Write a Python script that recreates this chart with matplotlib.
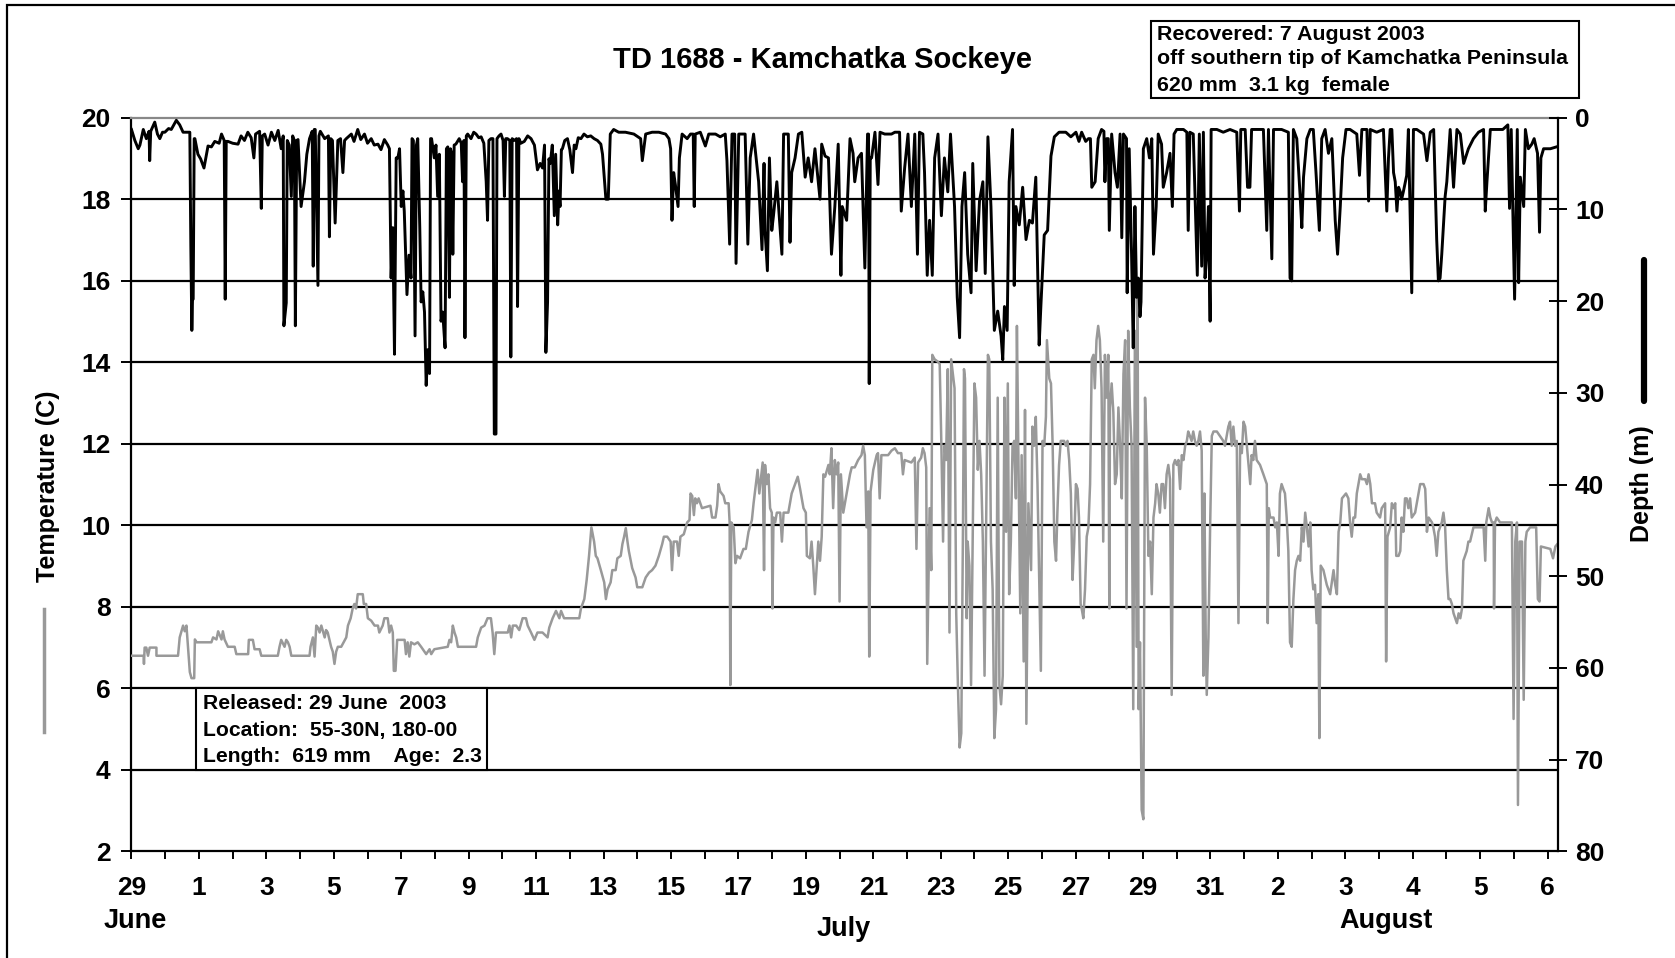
import matplotlib.pyplot as plt
from matplotlib.lines import Line2D
from matplotlib.patches import Rectangle

plt.rcParams["font.family"] = ["Liberation Sans", "DejaVu Sans"]
plt.rcParams["font.weight"] = "bold"

# time axis: days after 29 June 2003 (0 = 29 June)
# depth record (m)
depth_early = [
    (0.00, 1.3), (0.10, 2.5), (0.20, 3.4), (0.25, 3.0), (0.35, 1.3), (0.44, 2.3), (0.52, 1.5),
    (0.54, 4.7), (0.57, 1.5), (0.69, 0.5), (0.77, 1.8), (0.84, 2.3), (0.92, 1.6), (0.99, 1.6),
    (1.10, 1.2), (1.18, 1.3), (1.33, 0.3), (1.43, 0.8), (1.53, 1.6), (1.73, 1.6), (1.76, 14.0),
    (1.79, 23.2), (1.81, 19.8), (1.83, 19.8), (1.86, 2.3), (1.88, 2.3), (1.97, 4.0), (2.05, 4.5),
    (2.15, 5.5), (2.20, 4.5), (2.27, 3.1), (2.37, 3.2), (2.47, 2.6), (2.60, 2.8), (2.67, 1.8),
    (2.75, 2.5), (2.78, 19.8), (2.81, 2.6), (2.86, 2.6), (3.00, 2.8), (3.16, 2.9), (3.25, 2.0),
    (3.35, 2.5), (3.45, 1.6), (3.55, 2.2), (3.63, 4.4), (3.68, 1.8), (3.80, 1.5), (3.85, 9.9),
    (3.88, 2.0), (3.95, 1.8), (4.05, 3.0), (4.15, 1.6), (4.25, 2.5), (4.35, 1.4), (4.44, 3.4),
    (4.50, 2.0), (4.52, 22.7), (4.59, 20.2), (4.62, 2.5), (4.68, 3.0), (4.74, 8.6), (4.78, 2.0),
    (4.83, 2.5), (4.86, 22.7), (4.90, 2.5), (4.94, 2.4), (5.03, 9.7), (5.13, 7.0), (5.20, 4.0),
    (5.28, 2.3), (5.36, 1.5), (5.39, 16.2), (5.42, 1.3), (5.45, 1.3), (5.53, 18.3), (5.56, 2.0),
    (5.60, 1.5), (5.73, 2.3), (5.84, 2.0), (5.87, 13.0), (5.91, 2.3), (5.96, 2.5), (6.04, 11.5),
    (6.08, 7.0), (6.12, 2.5), (6.20, 2.3), (6.27, 6.0), (6.32, 2.5), (6.37, 2.3), (6.52, 1.8),
    (6.60, 2.6), (6.71, 1.3), (6.80, 2.4), (6.91, 1.8), (7.00, 2.8), (7.11, 2.3), (7.20, 3.0),
    (7.31, 2.9), (7.40, 3.5), (7.50, 2.4), (7.60, 3.0), (7.65, 3.4), (7.70, 17.5), (7.75, 12.0),
    (7.80, 25.8), (7.85, 4.4), (7.90, 4.4), (7.95, 3.4), (8.00, 9.7), (8.05, 8.0), (8.09, 10.2),
    (8.17, 19.3), (8.23, 15.0), (8.29, 17.5), (8.32, 2.3), (8.36, 2.5), (8.41, 23.8), (8.45, 3.0),
    (8.49, 2.3), (8.55, 12.0), (8.59, 20.1), (8.64, 19.0), (8.69, 21.2), (8.74, 29.2), (8.79, 25.3),
    (8.84, 27.9), (8.87, 2.3), (8.90, 2.3), (8.98, 4.4), (9.03, 3.0), (9.08, 8.6), (9.13, 4.0),
    (9.18, 22.2), (9.23, 21.2), (9.30, 25.1), (9.34, 3.4), (9.38, 3.2), (9.43, 19.6), (9.46, 3.4),
    (9.50, 4.0), (9.53, 14.9), (9.57, 3.0), (9.62, 2.9), (9.72, 2.3), (9.78, 2.8), (9.82, 7.0),
    (9.86, 2.5), (9.89, 24.0), (9.93, 2.0), (9.97, 1.8), (10.07, 2.3), (10.15, 1.6), (10.22, 1.8),
    (10.30, 2.2), (10.37, 2.1), (10.45, 2.8), (10.52, 7.0), (10.56, 11.2), (10.60, 2.5),
    (10.66, 2.3), (10.72, 2.3), (10.76, 34.5), (10.81, 34.5), (10.84, 2.3), (10.90, 2.0),
    (10.96, 1.8), (11.02, 2.5), (11.06, 8.6), (11.10, 2.3), (11.15, 2.3), (11.22, 2.5),
    (11.25, 26.1), (11.29, 2.3), (11.35, 2.5), (11.42, 2.3), (11.45, 20.6), (11.49, 2.3),
    (11.55, 2.8), (11.65, 2.6), (11.75, 2.0), (11.85, 2.3), (11.95, 3.0), (12.04, 5.7),
    (12.12, 5.0), (12.19, 5.5), (12.25, 3.0), (12.29, 25.6), (12.34, 20.1), (12.38, 4.5),
    (12.42, 5.0), (12.48, 3.0), (12.54, 10.7), (12.58, 4.0), (12.64, 11.7), (12.68, 8.0),
    (12.71, 9.7), (12.75, 3.5), (12.78, 3.4), (12.85, 2.5), (12.93, 2.3), (13.00, 3.5),
    (13.08, 6.0), (13.13, 3.0), (13.18, 3.4), (13.25, 2.2), (13.33, 2.3), (13.42, 1.8),
    (13.52, 2.1), (13.62, 2.0), (13.72, 2.3), (13.82, 2.5), (13.92, 2.9), (13.97, 4.0),
]
depth_mid = [
    (14.07, 8.9), (14.14, 8.9), (14.20, 1.8), (14.30, 1.3), (14.45, 1.6), (14.65, 1.6),
    (14.90, 1.8), (15.10, 2.3), (15.15, 4.7), (15.25, 1.8), (15.44, 1.6), (15.64, 1.6),
    (15.84, 1.8), (15.94, 2.3), (15.99, 3.4), (16.03, 11.2), (16.08, 6.0), (16.13, 7.3),
    (16.21, 9.7), (16.25, 4.4), (16.33, 1.8), (16.48, 2.3), (16.58, 1.8), (16.66, 1.8),
    (16.69, 9.7), (16.72, 1.8), (16.87, 1.6), (17.02, 3.1), (17.12, 1.8), (17.32, 1.8),
    (17.46, 2.1), (17.61, 1.8), (17.66, 4.7), (17.74, 13.8), (17.81, 1.8), (17.89, 1.8),
    (17.93, 15.9), (18.01, 1.8), (18.10, 1.8), (18.20, 1.8), (18.28, 13.8), (18.35, 4.4),
    (18.45, 1.8), (18.60, 7.0), (18.70, 14.4), (18.76, 5.0), (18.79, 12.3), (18.86, 16.7),
    (18.92, 4.4), (18.99, 12.3), (19.04, 10.7), (19.14, 7.0), (19.29, 14.9), (19.34, 1.8),
    (19.48, 1.8), (19.53, 13.6), (19.58, 6.0), (19.68, 4.4), (19.78, 1.8), (19.88, 1.6),
    (19.98, 6.5), (20.07, 4.4), (20.17, 7.0), (20.27, 3.4), (20.42, 8.9), (20.47, 2.9),
    (20.57, 4.2), (20.67, 4.4), (20.76, 14.9), (20.86, 9.7), (20.96, 2.9), (21.04, 17.2),
    (21.08, 9.7), (21.21, 11.2), (21.31, 2.3), (21.40, 3.9), (21.45, 7.0), (21.55, 4.4),
    (21.65, 3.9), (21.75, 16.4), (21.83, 1.8), (21.86, 1.8), (21.88, 29.0), (21.91, 4.4),
    (21.95, 4.4), (22.05, 1.6), (22.14, 7.3), (22.20, 1.6), (22.34, 1.8), (22.54, 1.8),
    (22.64, 1.6), (22.78, 1.6), (22.83, 10.2), (22.93, 5.5), (23.03, 1.8), (23.13, 9.7),
    (23.23, 1.8), (23.31, 14.9), (23.37, 1.6), (23.47, 1.8), (23.52, 6.0), (23.60, 17.2),
    (23.67, 11.2), (23.75, 17.2), (23.82, 4.4), (23.92, 1.8), (24.02, 10.7), (24.11, 4.4),
    (24.21, 8.1), (24.29, 1.8), (24.41, 9.7), (24.49, 19.6), (24.56, 24.0), (24.63, 9.7),
    (24.71, 6.0), (24.80, 14.9), (24.90, 19.1), (24.95, 5.0), (25.05, 16.7), (25.15, 9.1),
    (25.25, 7.0), (25.32, 17.0), (25.40, 2.1), (25.49, 9.7), (25.59, 23.2), (25.69, 21.1),
    (25.79, 23.8), (25.84, 26.4), (25.89, 20.6), (25.97, 23.2), (26.03, 7.0), (26.13, 1.3),
    (26.18, 18.3), (26.23, 9.7), (26.33, 11.7), (26.43, 7.6), (26.53, 13.3), (26.63, 11.2),
    (26.72, 11.5), (26.82, 6.5), (26.92, 24.8), (26.97, 20.6), (27.07, 12.8), (27.17, 12.3),
    (27.27, 4.2), (27.37, 2.1), (27.51, 1.6), (27.71, 1.6), (27.86, 2.1), (28.01, 1.6),
    (28.10, 2.6),
]
depth_late = [
    (28.18, 1.6), (28.30, 2.6), (28.38, 2.3), (28.44, 2.3), (28.48, 7.6), (28.58, 7.0),
    (28.67, 2.3), (28.77, 1.3), (28.84, 1.5), (28.87, 7.0), (28.92, 2.3), (28.97, 2.3),
    (29.00, 12.3), (29.07, 1.8), (29.17, 6.0), (29.24, 7.6), (29.32, 1.8), (29.37, 13.1),
    (29.42, 1.8), (29.51, 2.3), (29.53, 19.1), (29.59, 3.4), (29.66, 14.9), (29.71, 25.1),
    (29.76, 9.7), (29.81, 19.6), (29.86, 17.5), (29.91, 21.7), (29.94, 20.1), (30.01, 3.4),
    (30.11, 2.3), (30.19, 4.4), (30.26, 2.3), (30.31, 14.9), (30.39, 9.7), (30.45, 1.8),
    (30.55, 2.9), (30.60, 7.6), (30.70, 6.0), (30.80, 3.9), (30.87, 9.7), (30.92, 1.8),
    (31.00, 1.3), (31.20, 1.3), (31.30, 1.6), (31.34, 12.3), (31.39, 1.6), (31.49, 1.8),
    (31.61, 17.2), (31.67, 1.8), (31.74, 16.2), (31.79, 1.6), (31.84, 17.5), (31.89, 14.9),
    (31.94, 9.7), (31.99, 22.2), (32.02, 1.3), (32.19, 1.3), (32.38, 1.6), (32.58, 1.3),
    (32.78, 1.6), (32.86, 10.2), (32.90, 1.3), (33.03, 1.3), (33.10, 7.6), (33.17, 7.6),
    (33.22, 1.3), (33.37, 1.3), (33.57, 1.3), (33.67, 12.3), (33.72, 1.3), (33.82, 15.4),
    (33.87, 1.3), (33.97, 1.3), (34.11, 1.3), (34.31, 1.6), (34.36, 17.5), (34.41, 17.8),
    (34.46, 1.3), (34.56, 2.3), (34.66, 8.6), (34.71, 12.0), (34.76, 6.5), (34.86, 2.3),
    (34.96, 1.3), (35.05, 1.3), (35.13, 6.0), (35.23, 12.3), (35.30, 2.3), (35.40, 1.3),
    (35.50, 3.9), (35.60, 2.3), (35.70, 11.2), (35.77, 14.9), (35.85, 9.7), (35.92, 4.4),
    (36.02, 1.3), (36.14, 1.3), (36.34, 1.8), (36.42, 6.3), (36.49, 1.3), (36.64, 1.3),
    (36.69, 9.1), (36.74, 1.3), (36.93, 1.6), (37.13, 1.3), (37.23, 10.2), (37.28, 4.4),
    (37.33, 1.3), (37.38, 1.3), (37.43, 6.0), (37.48, 7.0), (37.53, 10.2), (37.58, 7.6),
    (37.63, 8.1), (37.67, 8.9), (37.72, 8.1), (37.82, 6.3), (37.87, 1.3), (37.97, 19.1),
    (38.02, 1.3), (38.12, 1.3), (38.32, 1.8), (38.42, 4.7), (38.52, 1.6), (38.62, 1.3),
    (38.71, 13.3), (38.76, 17.8), (38.81, 17.5), (38.86, 14.9), (38.91, 11.7), (38.96, 8.6),
    (39.01, 7.0), (39.11, 1.3), (39.21, 7.6), (39.31, 1.3), (39.41, 1.8), (39.51, 5.0),
    (39.65, 3.4), (39.80, 2.3), (39.95, 1.6), (40.10, 1.3), (40.15, 10.2), (40.20, 7.0),
    (40.30, 1.3), (40.49, 1.3), (40.67, 1.3), (40.82, 0.8), (40.87, 9.9), (40.92, 1.3),
    (41.02, 19.8), (41.10, 1.3), (41.14, 18.0), (41.19, 6.5), (41.29, 9.7), (41.34, 1.3),
    (41.43, 3.4), (41.53, 2.9), (41.60, 2.3), (41.70, 3.9), (41.76, 12.5), (41.80, 4.4),
    (41.88, 3.4), (41.98, 3.4), (42.08, 3.4), (42.35, 3.1),
]

# temperature record (deg C)
temp_early = [
    (0.00, 6.8), (0.36, 6.8), (0.37, 6.6), (0.39, 7.0), (0.44, 7.0), (0.49, 6.8), (0.54, 7.0),
    (0.74, 7.0), (0.74, 6.8), (1.38, 6.8), (1.43, 7.25), (1.53, 7.54), (1.58, 7.4), (1.63, 7.54),
    (1.73, 6.4), (1.78, 6.25), (1.86, 6.25), (1.88, 7.2), (1.93, 7.13), (2.37, 7.13), (2.42, 7.25),
    (2.52, 7.2), (2.57, 7.4), (2.67, 7.2), (2.71, 7.4), (2.76, 7.2), (2.86, 7.02), (3.06, 7.02),
    (3.11, 6.84), (3.46, 6.84), (3.48, 7.19), (3.60, 7.19), (3.65, 6.96), (3.80, 6.96),
    (3.85, 6.8), (4.34, 6.8), (4.39, 7.02), (4.44, 7.19), (4.54, 7.02), (4.59, 7.19),
    (4.64, 7.13), (4.69, 7.02), (4.74, 6.8), (5.28, 6.8), (5.31, 7.02), (5.38, 7.25),
    (5.43, 6.78), (5.48, 7.54), (5.53, 7.49), (5.58, 7.37), (5.63, 7.54), (5.73, 7.25),
    (5.77, 7.43), (5.82, 7.37), (5.92, 7.02), (5.97, 6.9), (6.02, 6.6), (6.07, 6.9),
    (6.12, 7.02), (6.22, 7.02), (6.37, 7.25), (6.42, 7.54), (6.50, 7.72), (6.56, 7.96),
    (6.61, 8.07), (6.66, 7.96), (6.71, 8.31), (6.86, 8.31), (6.89, 8.07), (6.96, 8.07),
    (7.01, 7.72), (7.11, 7.66), (7.21, 7.54), (7.31, 7.54), (7.35, 7.37), (7.45, 7.54),
    (7.50, 7.72), (7.60, 7.72), (7.65, 7.37), (7.70, 7.54), (7.75, 7.37), (7.78, 6.43),
    (7.83, 6.43), (7.88, 7.19), (8.10, 7.19), (8.14, 6.84), (8.19, 7.13), (8.24, 6.78),
    (8.29, 7.13), (8.39, 7.08), (8.49, 7.13), (8.59, 7.02), (8.64, 6.96), (8.74, 6.84),
    (8.84, 6.96), (8.89, 6.84), (8.98, 6.96), (9.38, 7.02), (9.43, 7.19), (9.48, 7.13),
    (9.53, 7.54), (9.58, 7.37), (9.63, 7.25), (9.68, 7.02), (10.22, 7.02), (10.27, 7.25),
    (10.37, 7.49), (10.47, 7.54), (10.56, 7.72), (10.66, 7.72), (10.71, 7.37), (10.76, 6.84),
    (10.81, 7.37), (11.16, 7.37), (11.21, 7.54), (11.26, 7.25), (11.31, 7.54), (11.41, 7.54),
    (11.50, 7.43), (11.60, 7.72), (11.70, 7.72), (11.75, 7.54), (11.85, 7.37), (11.95, 7.19),
    (12.04, 7.37), (12.19, 7.37), (12.34, 7.25), (12.39, 7.49), (12.49, 7.72), (12.59, 7.9),
    (12.69, 7.72), (12.74, 7.9), (12.83, 7.72), (13.28, 7.72), (13.33, 7.96), (13.43, 8.19),
    (13.50, 8.66), (13.57, 9.25), (13.64, 9.95), (13.72, 9.6), (13.77, 9.25), (13.82, 9.19),
    (13.92, 8.9), (14.02, 8.6), (14.07, 8.19), (14.12, 8.43),
]
temp_mid = [
    (14.21, 8.60), (14.26, 8.90), (14.36, 8.90), (14.41, 9.19), (14.51, 9.25), (14.56, 9.54),
    (14.61, 9.72), (14.66, 9.93), (14.71, 9.60), (14.75, 9.37), (14.85, 8.95), (14.95, 8.72),
    (15.00, 8.48), (15.15, 8.48), (15.25, 8.72), (15.35, 8.84), (15.44, 8.90), (15.54, 9.01),
    (15.64, 9.25), (15.74, 9.54), (15.79, 9.72), (15.89, 9.72), (15.99, 9.60), (16.03, 8.90),
    (16.08, 9.60), (16.18, 9.60), (16.23, 9.25), (16.28, 9.72), (16.38, 9.78), (16.48, 10.07),
    (16.55, 10.13), (16.58, 10.78), (16.63, 10.72), (16.68, 10.25), (16.72, 10.66),
    (16.77, 10.54), (16.82, 10.66), (16.92, 10.42), (17.17, 10.48), (17.22, 10.19),
    (17.32, 10.19), (17.37, 10.48), (17.41, 11.01), (17.46, 10.83), (17.56, 10.72),
    (17.61, 10.54), (17.71, 10.54), (17.74, 10.07), (17.76, 6.08), (17.79, 10.07),
    (17.86, 9.95), (17.91, 9.07), (17.96, 9.25), (18.05, 9.19), (18.15, 9.42), (18.22, 9.42),
    (18.30, 9.84), (18.40, 10.13), (18.45, 10.54), (18.50, 10.89), (18.57, 11.36),
    (18.62, 10.78), (18.68, 11.25), (18.72, 11.54), (18.76, 8.90), (18.79, 11.48),
    (18.84, 11.01), (18.89, 11.25), (18.94, 10.42), (18.99, 10.31), (19.01, 7.96),
    (19.04, 10.19), (19.09, 10.07), (19.14, 10.31), (19.24, 10.31), (19.29, 9.60),
    (19.34, 10.31), (19.48, 10.31), (19.58, 10.78), (19.68, 11.01), (19.76, 11.19),
    (19.83, 10.89), (19.88, 10.66), (19.93, 10.42), (20.00, 10.31), (20.03, 9.25),
    (20.12, 9.19), (20.17, 9.60), (20.22, 9.01), (20.27, 8.31), (20.32, 8.95), (20.37, 9.60),
    (20.42, 9.13), (20.47, 9.72), (20.52, 11.25), (20.57, 11.19), (20.67, 11.48),
    (20.71, 11.25), (20.76, 11.89), (20.81, 10.42), (20.86, 11.60), (20.91, 11.25),
    (20.96, 11.54), (21.00, 8.13), (21.04, 11.25), (21.11, 10.31), (21.21, 10.78),
    (21.31, 11.25), (21.36, 11.42), (21.45, 11.42), (21.55, 11.60), (21.65, 11.72),
    (21.70, 11.95), (21.75, 11.72), (21.80, 9.95), (21.85, 10.83), (21.88, 6.78),
    (21.92, 10.83), (22.00, 11.36), (22.10, 11.72), (22.14, 11.77), (22.19, 10.66),
    (22.24, 11.72), (22.44, 11.72), (22.54, 11.83), (22.64, 11.89), (22.73, 11.77),
    (22.83, 11.77), (22.88, 11.25), (22.93, 11.60), (23.13, 11.54), (23.23, 11.66),
    (23.28, 9.42), (23.33, 11.54), (23.42, 11.66), (23.47, 11.89), (23.52, 11.77),
    (23.57, 11.42), (23.60, 6.60), (23.67, 10.42), (23.72, 8.90), (23.75, 14.18),
    (23.82, 14.07), (23.92, 14.01), (23.97, 13.95), (24.02, 11.95), (24.07, 9.60),
    (24.11, 11.95), (24.16, 11.60), (24.21, 13.83), (24.26, 7.37), (24.31, 14.07),
    (24.36, 13.71), (24.41, 13.36), (24.46, 7.84), (24.51, 6.08), (24.56, 4.55),
    (24.61, 4.90), (24.66, 9.95), (24.69, 13.83), (24.72, 13.60), (24.77, 7.72),
    (24.80, 9.60), (24.85, 9.01), (24.90, 6.08), (24.95, 9.84), (25.00, 13.48),
    (25.05, 13.13), (25.10, 11.36), (25.15, 12.07), (25.20, 11.25), (25.25, 9.60),
    (25.30, 6.31), (25.35, 10.19), (25.40, 14.18), (25.44, 14.07), (25.49, 9.60),
    (25.54, 8.43), (25.59, 4.78), (25.64, 5.49), (25.69, 13.13), (25.74, 6.08),
    (25.79, 5.61), (25.84, 6.31), (25.89, 13.13), (25.94, 9.84), (25.99, 13.48),
    (26.03, 8.31), (26.08, 9.60), (26.13, 11.95), (26.18, 12.07), (26.23, 10.66),
    (26.26, 14.89), (26.30, 11.95), (26.36, 7.84), (26.40, 11.72), (26.46, 6.66),
    (26.50, 12.83), (26.54, 5.13), (26.60, 10.54), (26.68, 8.90), (26.72, 12.42),
    (26.77, 11.95), (26.82, 12.66), (26.87, 11.01), (26.92, 8.66), (26.97, 6.43),
    (27.02, 12.07), (27.07, 11.95), (27.12, 12.66), (27.15, 14.54), (27.22, 13.60),
    (27.27, 13.48), (27.32, 11.95), (27.37, 9.60), (27.42, 9.13), (27.46, 10.31),
    (27.51, 11.48), (27.56, 12.07), (27.66, 12.07), (27.71, 11.95), (27.76, 12.07),
    (27.81, 11.60), (27.86, 10.78), (27.91, 8.66), (27.96, 9.60), (28.01, 11.01),
    (28.06, 10.89), (28.10, 10.19), (28.15, 8.07),
]
temp_late = [
    (28.18, 7.96), (28.23, 7.72), (28.28, 8.43), (28.33, 9.72), (28.38, 9.95), (28.43, 11.01),
    (28.48, 14.07), (28.53, 14.18), (28.57, 13.36), (28.62, 14.54), (28.67, 14.89),
    (28.72, 14.54), (28.77, 13.36), (28.82, 9.60), (28.87, 14.18), (28.92, 13.13),
    (28.97, 14.18), (29.00, 7.96), (29.02, 12.89), (29.07, 13.48), (29.12, 12.77),
    (29.17, 11.01), (29.22, 11.25), (29.27, 12.89), (29.32, 11.95), (29.37, 10.66),
    (29.42, 13.71), (29.47, 14.54), (29.51, 7.96), (29.56, 14.77), (29.61, 12.89),
    (29.66, 11.95), (29.71, 5.49), (29.76, 14.77), (29.81, 7.02), (29.84, 15.59),
    (29.87, 5.49), (29.91, 7.13), (29.96, 3.02), (30.01, 2.79), (30.06, 13.13), (30.11, 11.95),
    (30.16, 9.25), (30.21, 9.60), (30.26, 8.31), (30.31, 10.19), (30.36, 10.54), (30.40, 11.01),
    (30.45, 10.78), (30.50, 10.31), (30.55, 11.01), (30.60, 11.01), (30.65, 10.42),
    (30.70, 11.25), (30.75, 11.48), (30.80, 11.13), (30.85, 5.84), (30.90, 11.48),
    (30.95, 11.60), (31.00, 11.48), (31.05, 11.60), (31.10, 10.89), (31.15, 11.72),
    (31.20, 11.60), (31.25, 11.95), (31.30, 12.07), (31.34, 12.30), (31.39, 12.19),
    (31.44, 12.07), (31.49, 12.30), (31.54, 12.07), (31.59, 11.95), (31.64, 12.07),
    (31.69, 12.30), (31.74, 11.83), (31.77, 8.31), (31.79, 6.31), (31.82, 10.78), (31.86, 7.25),
    (31.89, 5.84), (31.94, 7.25), (31.99, 9.95), (32.04, 12.19), (32.09, 12.30), (32.19, 12.30),
    (32.28, 12.19), (32.38, 12.07), (32.43, 11.95), (32.53, 12.42), (32.58, 12.54),
    (32.63, 11.95), (32.68, 12.42), (32.73, 11.95), (32.78, 12.07), (32.83, 7.60),
    (32.88, 11.95), (32.93, 11.77), (32.98, 12.54), (33.03, 12.42), (33.08, 11.95),
    (33.18, 11.01), (33.22, 11.72), (33.27, 11.60), (33.32, 12.07), (33.37, 11.60),
    (33.47, 11.48), (33.57, 11.25), (33.67, 11.01), (33.70, 7.60), (33.73, 10.42),
    (33.77, 10.19), (33.87, 10.19), (33.92, 9.95), (33.97, 10.07), (34.02, 9.25),
    (34.06, 10.78), (34.11, 11.01), (34.16, 10.89), (34.21, 10.78), (34.26, 10.19),
    (34.31, 9.37), (34.36, 7.13), (34.41, 7.02), (34.46, 8.19), (34.51, 8.90), (34.56, 9.13),
    (34.61, 9.25), (34.66, 9.13), (34.71, 9.95), (34.76, 9.60), (34.81, 10.31), (34.86, 9.95),
    (34.91, 9.48), (34.96, 10.07), (35.00, 8.90), (35.05, 8.43), (35.10, 8.54), (35.15, 7.60),
    (35.20, 8.31), (35.23, 4.78), (35.27, 9.01), (35.35, 8.90), (35.45, 8.54), (35.55, 8.31),
    (35.65, 8.90), (35.70, 8.54), (35.75, 8.31), (35.80, 9.84), (35.85, 10.07), (35.90, 10.66),
    (36.02, 10.78), (36.09, 10.66), (36.14, 10.07), (36.19, 9.72), (36.24, 10.19),
    (36.29, 10.19), (36.34, 10.78), (36.39, 11.01), (36.44, 11.25), (36.49, 11.13),
    (36.59, 11.13), (36.64, 11.01), (36.69, 11.25), (36.74, 11.01), (36.79, 10.54),
    (36.88, 10.54), (36.93, 10.31), (37.03, 10.19), (37.08, 10.42), (37.18, 10.54),
    (37.21, 6.66), (37.25, 9.72), (37.33, 9.95), (37.38, 10.54), (37.43, 10.42),
    (37.48, 10.54), (37.51, 9.25), (37.58, 9.25), (37.63, 9.37), (37.67, 10.19), (37.72, 9.84),
    (37.77, 10.66), (37.82, 10.66), (37.87, 10.42), (37.92, 10.66), (37.97, 10.19),
    (38.07, 10.31), (38.12, 10.54), (38.17, 10.78), (38.22, 11.01), (38.32, 11.01),
    (38.37, 10.89), (38.42, 9.84), (38.47, 10.19), (38.57, 10.07), (38.61, 9.95), (38.66, 9.72),
    (38.71, 9.25), (38.76, 9.84), (38.86, 10.07), (38.91, 10.31), (38.96, 9.95), (39.01, 8.90),
    (39.06, 8.19), (39.11, 8.19), (39.16, 8.07), (39.21, 7.84), (39.26, 7.72), (39.31, 7.60),
    (39.36, 7.84), (39.41, 7.72), (39.46, 7.96), (39.50, 9.13), (39.55, 9.25), (39.60, 9.37),
    (39.65, 9.60), (39.70, 9.60), (39.80, 9.95), (40.10, 9.95), (40.15, 9.13), (40.18, 10.07),
    (40.25, 10.42), (40.30, 10.19), (40.35, 10.07), (40.40, 10.07), (40.41, 7.96),
    (40.44, 10.07), (40.49, 10.19), (40.59, 10.07), (40.94, 10.07), (40.99, 5.25),
    (41.04, 9.60), (41.09, 10.07), (41.12, 3.14), (41.17, 9.60), (41.24, 9.60), (41.29, 5.72),
    (41.34, 9.60), (41.38, 9.84), (41.48, 9.95), (41.66, 9.95), (41.71, 8.19), (41.76, 8.13),
    (41.80, 9.48), (42.08, 9.42), (42.16, 9.19), (42.23, 9.48), (42.35, 9.60),
]

day_ticks = list(range(0, 43, 2))
day_labels = ["29", "1", "3", "5", "7", "9", "11", "13", "15", "17", "19", "21",
              "23", "25", "27", "29", "31", "2", "3", "4", "5", "6"]
temp_ticks = list(range(2, 21, 2))
depth_ticks = list(range(0, 81, 10))

depth = depth_early + depth_mid + depth_late
temp = temp_early + temp_mid + temp_late
depth_x = [p[0] for p in depth]
depth_y = [p[1] for p in depth]
temp_x = [p[0] for p in temp]
temp_y = [p[1] for p in temp]

fig = plt.figure(figsize=(16.75, 9.58), dpi=100)
ax = fig.add_axes([0.0785, 0.1112, 0.8515, 0.7661])
ax2 = ax.twinx()

for v in range(4, 20, 2):
    ax.axhline(v, color="black", lw=1.6, zorder=1)

ax.plot(temp_x, temp_y, color="#999999", lw=1.8, zorder=3)
ax2.plot(depth_x, depth_y, color="black", lw=2.1)

ax.set_xlim(0, 42.3)
ax.set_ylim(2, 20)
ax2.set_ylim(80, 0)

ax.set_yticks(temp_ticks)
ax.set_xticks(day_ticks)
ax.set_xticklabels(day_labels)
ax.set_xticks(range(1, 43, 2), minor=True)
ax2.set_yticks(depth_ticks)

ax.tick_params(axis="y", direction="out", length=7, width=1.4, labelsize=19, pad=8)
ax.tick_params(axis="x", which="both", direction="out", length=6, width=1.4,
               labelsize=19, pad=12)
ax2.tick_params(axis="y", direction="inout", length=13, width=1.4, labelsize=19, pad=6)

for s in ["left", "bottom"]:
    ax.spines[s].set_linewidth(1.6)
ax.spines["top"].set_color("#888888")
ax.spines["top"].set_linewidth(1.6)
ax.spines["right"].set_visible(False)
for s in ["left", "top", "bottom"]:
    ax2.spines[s].set_visible(False)
ax2.spines["right"].set_linewidth(1.6)

# release box sits between the 4 and 6 degree lines
ax.add_patch(Rectangle((1.9, 4), 8.64, 2, facecolor="white", edgecolor="black",
                       lw=1.5, zorder=5))
ax.text(2.12, 5.62, "Released: 29 June  2003", fontsize=15.2, va="center", zorder=6)
ax.text(2.12, 4.96, "Location:  55-30N, 180-00", fontsize=15.2, va="center", zorder=6)
ax.text(2.12, 4.33, "Length:  619 mm    Age:  2.3", fontsize=15.2, va="center", zorder=6)

fig.text(0.491, 0.937, "TD 1688 - Kamchatka Sockeye", fontsize=21, ha="center", va="center")

fig.add_artist(Rectangle((0.687, 0.8974), 0.2557, 0.0803, transform=fig.transFigure,
                         fill=False, edgecolor="black", lw=1.5))
fig.text(0.6908, 0.9643, "Recovered: 7 August 2003", fontsize=15.4, va="center")
fig.text(0.6908, 0.9386, "off southern tip of Kamchatka Peninsula", fontsize=15.4, va="center")
fig.text(0.6908, 0.9108, "620 mm  3.1 kg  female", fontsize=15.4, va="center")

fig.text(0.081, 0.0386, "June", fontsize=19.5, ha="center", va="center")
fig.text(0.504, 0.0298, "July", fontsize=19.5, ha="center", va="center")
fig.text(0.8273, 0.0386, "August", fontsize=19.5, ha="center", va="center")

fig.text(0.0285, 0.4927, "Temperature (C)", fontsize=18, rotation=90, ha="center", va="center")
fig.text(0.980, 0.4954, "Depth (m)", fontsize=18, rotation=90, ha="center", va="center")

# line keys next to the axis titles
fig.add_artist(Line2D([0.026, 0.026], [0.2359, 0.3643], transform=fig.transFigure,
                      color="#999999", lw=2.5))
fig.add_artist(Line2D([0.9813, 0.9813], [0.5818, 0.7290], transform=fig.transFigure,
                      color="black", lw=4.5, solid_capstyle="round"))

# outer frame, cut by the image edge on the right and bottom
fig.add_artist(Rectangle((0.0042, -0.1), 1.2, 1.0948, transform=fig.transFigure,
                         fill=False, edgecolor="black", lw=1.6))

fig.savefig("out.png", dpi=100)
